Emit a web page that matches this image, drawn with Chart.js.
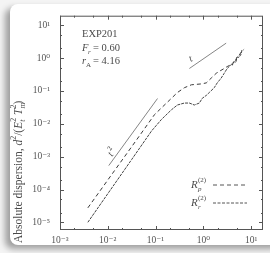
<!DOCTYPE html>
<html lang="en">
<head>
<meta charset="UTF-8">
<title>Absolute dispersion</title>
<script src="https://cdn.jsdelivr.net/npm/chart.js"></script>
<style>
  html, body { margin: 0; padding: 0; }
  body { width: 270px; height: 253px; overflow: hidden; position: relative; background: #f4f4f4; }
  .card { position: absolute; left: 10px; top: 4px; width: 275px; height: 241px; background: #fff;
          border-radius: 8px; box-shadow: -5px 4px 6px rgba(0,0,0,0.35); }
  #wrap { position: absolute; left: 0; top: 0; width: 270px; height: 253px; }
</style>
</head>
<body>
<div class="card"></div>
<div id="wrap"><canvas id="grafico"></canvas></div>

<script>
// time (x) and absolute dispersion (y)
const tP = [0.00383, 0.01, 0.0316, 0.0953, 0.178, 0.287, 0.402, 0.562, 0.908, 1.156, 1.469, 1.866,
            2.153, 2.742, 3.162, 3.828, 4.05, 4.426, 4.7, 5.105, 5.5, 6.194, 7.145];
const Rp = [2.78e-5, 1.95e-4, 2.0e-3, 0.0191, 0.0458, 0.0897, 0.1256, 0.154, 0.164, 0.176, 0.247, 0.345,
            0.394, 0.483, 0.553, 0.632, 0.60, 0.885, 0.84, 1.084, 1.15, 1.517, 1.858];

const tR = [0.00383, 0.01, 0.0316, 0.0826, 0.1334, 0.2153, 0.287, 0.402, 0.511, 0.649, 0.826, 0.953,
            1.156, 1.334, 1.694, 1.959, 2.371, 2.742, 3.162, 3.828, 4.426, 4.8, 5.105, 5.6, 6.194, 6.5];
const Rr = [1.01e-5, 7.46e-5, 8.18e-4, 6.08e-3, 0.01365, 0.02673, 0.0374, 0.0429, 0.0429, 0.0374, 0.0429, 0.06,
            0.0733, 0.0897, 0.1256, 0.176, 0.247, 0.345, 0.483, 0.632, 0.774, 0.74, 1.084, 1.05, 1.327, 1.858];

// guide lines t^2 and t
const tSq = [0.0105, 0.11];
const ySq = [5.37e-4, 0.0589];
const tLin = [0.511, 3.01];
const yLin = [0.483, 2.85];

const xTicks = [1e-3, 1e-2, 1e-1, 1, 10];
const yTicks = [1e-5, 1e-4, 1e-3, 1e-2, 1e-1, 1, 10];
const sup = {'-': '⁻', '0': '⁰', '1': '¹', '2': '²', '3': '³', '4': '⁴', '5': '⁵'};

function pares(xs, ys) { return xs.map((v, i) => ({x: v, y: ys[i]})); }
function etiqueta(v) {
    const e = String(Math.round(Math.log10(v)));
    return '10' + e.split('').map(c => sup[c]).join('');
}

const ink = '#4a4a4a';
const serif = '"Liberation Serif", "DejaVu Serif", serif';

const decor = {
    id: 'decor',
    afterDatasetsDraw(chart) {
        const {ctx, chartArea: a, scales: {x, y}} = chart;
        ctx.save();
        ctx.strokeStyle = '#555';
        ctx.lineWidth = 1;
        ctx.strokeRect(a.left + 0.5, a.top + 0.5, a.width - 1, a.height - 1);
        ctx.beginPath();
        for (let e = -3; e <= 1; e++) {
            for (const m of [1, 2, 5]) {
                const v = m * Math.pow(10, e);
                if (v < x.min || v > x.max) continue;
                const p = Math.round(x.getPixelForValue(v)) + 0.5, L = m === 1 ? 4 : 2;
                ctx.moveTo(p, a.bottom); ctx.lineTo(p, a.bottom - L);
                ctx.moveTo(p, a.top); ctx.lineTo(p, a.top + L);
            }
        }
        for (let e = -6; e <= 1; e++) {
            for (const m of [1, 2, 5]) {
                const v = m * Math.pow(10, e);
                if (v < y.min || v > y.max) continue;
                const p = Math.round(y.getPixelForValue(v)) + 0.5, L = m === 1 ? 4 : 2;
                ctx.moveTo(a.left, p); ctx.lineTo(a.left + L, p);
                ctx.moveTo(a.right, p); ctx.lineTo(a.right - L, p);
            }
        }
        ctx.stroke();

        ctx.fillStyle = ink;
        ctx.textBaseline = 'middle';
        ctx.textAlign = 'left';
        // run info
        const tx = a.left + 22;
        ctx.font = '10.5px ' + serif;
        ctx.fillText('EXP201', tx, a.top + 19);
        ctx.font = 'italic 10.5px ' + serif;
        ctx.fillText('F', tx, a.top + 33);
        ctx.font = 'italic 7px ' + serif;
        ctx.fillText('r', tx + 6, a.top + 36);
        ctx.font = '10.5px ' + serif;
        ctx.fillText('= 0.60', tx + 11, a.top + 33);
        ctx.font = 'italic 10.5px ' + serif;
        ctx.fillText('r', tx, a.top + 46);
        ctx.font = '7px ' + serif;
        ctx.fillText('A', tx + 4, a.top + 49);
        ctx.font = '10.5px ' + serif;
        ctx.fillText('= 4.16', tx + 11, a.top + 46);

        // slope labels
        ctx.font = 'italic 10px ' + serif;
        ctx.save();
        ctx.translate(x.getPixelForValue(0.0121), y.getPixelForValue(0.00129));
        ctx.rotate(-1.0);
        ctx.fillText('t', -3, 0);
        ctx.font = '7px ' + serif;
        ctx.fillText('2', 1, -4);
        ctx.restore();
        ctx.save();
        ctx.translate(x.getPixelForValue(0.562), y.getPixelForValue(0.948));
        ctx.rotate(-0.5);
        ctx.fillText('t', -2, 0);
        ctx.restore();

        // legend
        const items = [['p', [4, 3], a.bottom - 45], ['r', [3, 1.5], a.bottom - 27]];
        for (const [s, dash, ly] of items) {
            const lx = a.left + 131;
            ctx.font = 'italic 11px ' + serif;
            ctx.fillText('R', lx, ly);
            ctx.font = '7px ' + serif;
            ctx.fillText('(2)', lx + 7, ly - 5);
            ctx.font = 'italic 7px ' + serif;
            ctx.fillText(s, lx + 7, ly + 4);
            ctx.beginPath();
            ctx.setLineDash(dash);
            ctx.strokeStyle = '#555';
            ctx.lineWidth = 1;
            ctx.moveTo(a.right - 50, ly); ctx.lineTo(a.right - 16, ly);
            ctx.stroke();
            ctx.setLineDash([]);
        }

        // y axis title
        ctx.save();
        ctx.translate(19, a.bottom + 13);
        ctx.rotate(-Math.PI / 2);
        ctx.textAlign = 'left';
        let cx = 0;
        const seg = (txt, f, dy) => { ctx.font = f; ctx.fillText(txt, cx, dy); cx += ctx.measureText(txt).width; };
        seg('Absolute dispersion, ', '11.5px ' + serif, 0);
        seg('d', 'italic 11.5px ' + serif, 0);
        seg('2', '8px ' + serif, -5);
        seg('/(', '11.5px ' + serif, 0);
        seg('E', 'italic 11.5px ' + serif, 0);
        ctx.font = 'italic 8px ' + serif; ctx.fillText('t', cx, 4);
        seg('2', '8px ' + serif, -5);
        seg(' T', 'italic 11.5px ' + serif, 0);
        ctx.font = 'italic 8px ' + serif; ctx.fillText('m', cx, 4);
        seg('2', '8px ' + serif, -5);
        seg(')', '11.5px ' + serif, 0);
        ctx.restore();
        ctx.restore();
    }
};

const lineStyle = {borderWidth: 1, pointRadius: 0, fill: false, tension: 0};

new Chart(document.getElementById('grafico'), {
    type: 'line',
    data: {
        datasets: [
            {label: 'Rp', data: pares(tP, Rp), borderColor: '#3a3a3a', borderDash: [4, 3], ...lineStyle},
            {label: 'Rr', data: pares(tR, Rr), borderColor: '#444', borderDash: [3, 1], ...lineStyle},
            {label: 't2', data: pares(tSq, ySq), borderColor: '#666', ...lineStyle, borderWidth: 0.8},
            {label: 't', data: pares(tLin, yLin), borderColor: '#666', ...lineStyle, borderWidth: 0.8}
        ]
    },
    options: {
        responsive: true,
        maintainAspectRatio: false,
        animation: false,
        layout: {padding: {top: 7, right: 7, left: 0, bottom: 0}},
        plugins: {legend: {display: false}, tooltip: {enabled: false}},
        scales: {
            x: {
                type: 'logarithmic',
                min: 1e-3,
                max: Math.pow(10, 1.25),
                grid: {display: false, drawTicks: false},
                border: {display: false},
                afterBuildTicks: s => { s.ticks = xTicks.map(v => ({value: v})); },
                afterFit: s => { s.height = 23; },
                ticks: {padding: 5, color: '#555', font: {family: serif, size: 9.5},
                        maxRotation: 0, autoSkip: false, callback: v => etiqueta(v)}
            },
            y: {
                type: 'logarithmic',
                min: Math.pow(10, -5.23),
                max: Math.pow(10, 1.29),
                grid: {display: false, drawTicks: false},
                border: {display: false},
                afterBuildTicks: s => { s.ticks = yTicks.map(v => ({value: v})); },
                afterFit: s => { s.width = 60; },
                ticks: {padding: 10, color: '#555', font: {family: serif, size: 9.5},
                        autoSkip: false, callback: v => etiqueta(v)}
            }
        }
    },
    plugins: [decor]
});
</script>
</body>
</html>
